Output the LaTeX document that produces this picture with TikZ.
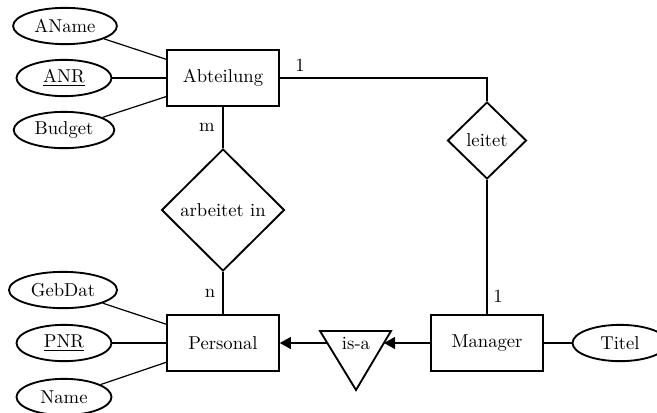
\documentclass[tikz,border=0pt]{standalone}
\usetikzlibrary{shapes.geometric,arrows.meta}
\begin{document}
\begin{tikzpicture}[x=0.537pt,y=-0.537pt,
  entity/.style={draw,line width=1pt,rectangle,minimum width=60pt,minimum height=30pt,inner sep=0pt},
  attr/.style={draw,line width=1pt,ellipse,minimum width=51pt,minimum height=19.5pt,inner xsep=3.33pt,inner ysep=0pt},
  rel/.style={draw,line width=1pt,diamond,inner sep=0pt},
  conn/.style={line width=0.65pt},
  isarrow/.style={line width=0.65pt,-{Triangle[length=6pt,width=6.5pt]}},
  card/.style={inner sep=0pt}]
\clip (0,0) rectangle (657,412);
% entities
\node[entity] (abt) at (223,78) {Abteilung};
\node[entity] (pers) at (223,343) {Personal};
\node[entity] (mgr) at (487,343) {Manager};
% attributes
\node[attr] (aname) at (65,26) {AName};
\node[attr] (anr) at (64,78) {\underline{ANR}};
\node[attr] (budget) at (64,130) {Budget};
\node[attr] (gebdat) at (63,290) {GebDat};
\node[attr] (pnr) at (64,343) {\underline{PNR}};
\node[attr] (name) at (64,397) {Name};
\node[attr] (titel) at (620,343) {Titel};
% relationships
\node[rel,minimum width=66pt,minimum height=65.5pt] (arb) at (223,210) {arbeitet in};
\node[rel,minimum width=42.4pt,minimum height=41.3pt] (leitet) at (487,140.5) {leitet};
% is-a triangle
\draw[line width=1pt,line join=miter] (320,331) -- (391,331) -- (356,390) -- cycle;
\node[inner sep=0pt] (isa) at (356,343) {is-a};
\coordinate (isaL) at (327,343);
\coordinate (isaR) at (384,343);
\coordinate (corner) at (487,78);
% connectors
\draw[conn] (aname) -- (abt);
\draw[conn] (anr) -- (abt);
\draw[conn] (budget) -- (abt);
\draw[conn] (gebdat) -- (pers);
\draw[conn] (pnr) -- (pers);
\draw[conn] (name) -- (pers);
\draw[conn] (mgr) -- (titel);
\draw[conn] (abt.south) -- (arb.north);
\draw[conn] (arb.south) -- (pers.north);
\draw[conn] (abt.east) -- (corner) -- (leitet.north);
\draw[conn] (leitet.south) -- (mgr.north);
\draw[isarrow] (mgr.west) -- (isaR);
\draw[isarrow] (isaL) -- (pers.east);
% cardinalities
\node[card] (cm) at (207,127) {m};
\node[card] (cn) at (210,293) {n};
\node[card] (c1a) at (300,65) {1};
\node[card] (c1b) at (498,296) {1};
\end{tikzpicture}
\end{document}
